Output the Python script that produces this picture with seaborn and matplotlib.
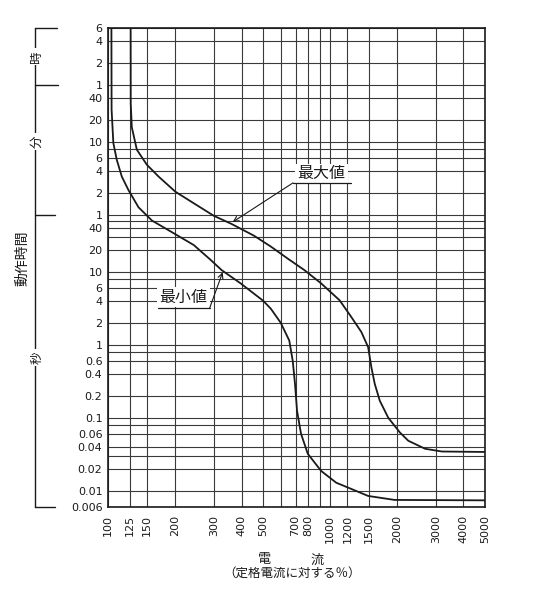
import matplotlib
matplotlib.use("Agg")
import matplotlib.pyplot as plt
import matplotlib.transforms as mtransforms
from matplotlib.ticker import FixedLocator, NullFormatter
import seaborn as sns

sns.set_style("white")
plt.rcParams['font.family'] = ['DejaVu Sans', 'Noto Sans CJK JP']

# ---- data (current in % of rating, time in seconds) ----
max_x = [126.5, 126.6, 128.0, 134.9, 149.7, 169, 201.2, 250, 300, 360, 455, 542,
         645, 767, 913, 1106, 1249, 1386, 1487, 1538, 1593, 1678, 1832, 2066, 2256,
         2685, 3194, 5000]
max_t = [21600, 2000, 950, 466, 290, 200, 124, 82, 58, 45, 31, 22,
         15.1, 10.5, 6.9, 4.05, 2.39, 1.49, 0.925, 0.49, 0.29, 0.171, 0.1, 0.063, 0.0484,
         0.0376, 0.0345, 0.034]

min_x = [103.6, 103.8, 105.7, 109.5, 115.4, 123.6, 137.2, 157.8, 193, 243.5, 289.9,
         325, 396, 500, 542, 600, 656, 680, 696, 711, 741, 795, 913, 1068, 1249,
         1487, 1955, 5000]
min_t = [21600, 1650, 576, 340, 200, 131, 76, 50, 35, 23.1, 14.5,
         10.5, 6.9, 4.0, 3.1, 2.0, 1.14, 0.6, 0.294, 0.125, 0.0604, 0.0321, 0.0187,
         0.0129, 0.0106, 0.0085, 0.0075, 0.0074]

x_ticks = [100, 125, 150, 200, 300, 400, 500, 700, 800, 1000, 1200, 1500, 2000, 3000, 4000, 5000]
x_tick_labels = [str(v) for v in x_ticks]
x_minor = [600, 900]

sec_ticks = [0.006, 0.01, 0.02, 0.04, 0.06, 0.1, 0.2, 0.4, 0.6, 1, 2, 4, 6, 10, 20, 40]
sec_labels = ['0.006', '0.01', '0.02', '0.04', '0.06', '0.1', '0.2', '0.4', '0.6',
              '1', '2', '4', '6', '10', '20', '40']
min_ticks = [1, 2, 4, 6, 10, 20, 40]          # minutes
hour_ticks = [1, 2, 4, 6]                     # hours
y_minor_sec = [0.03, 0.08, 0.8, 8, 30, 50, 480]

y_ticks = sec_ticks + [m * 60 for m in min_ticks] + [h * 3600 for h in hour_ticks]
y_tick_labels = sec_labels + [str(m) for m in min_ticks] + [str(h) for h in hour_ticks]

# ---- figure ----
W, H = 548, 600
fig = plt.figure(figsize=(W / 100, H / 100), dpi=100)
ax = fig.add_axes([108 / W, 1 - 507 / H, (485 - 108) / W, (507 - 28) / H])
ax.set_xscale('log')
ax.set_yscale('log')
ax.set_xlim(100, 5000)
ax.set_ylim(0.006, 21600)

ink = '#1a1a1a'
ax.xaxis.set_major_locator(FixedLocator(x_ticks))
ax.xaxis.set_minor_locator(FixedLocator(x_minor))
ax.xaxis.set_minor_formatter(NullFormatter())
ax.set_xticklabels(x_tick_labels, rotation=90, fontsize=8, color=ink)
ax.yaxis.set_major_locator(FixedLocator(y_ticks))
ax.yaxis.set_minor_locator(FixedLocator(y_minor_sec))
ax.yaxis.set_minor_formatter(NullFormatter())
ax.set_yticklabels(y_tick_labels, fontsize=8, color=ink)
ax.tick_params(axis='both', which='both', length=0)
ax.tick_params(axis='y', pad=4)
ax.tick_params(axis='x', pad=6)
ax.grid(True, which='both', color='#3a3a3a', lw=0.8)
for s in ax.spines.values():
    s.set_color(ink)
    s.set_linewidth(1.2)

sns.lineplot(x=max_x, y=max_t, ax=ax, color=ink, lw=1.3, estimator=None, sort=False, legend=False)
sns.lineplot(x=min_x, y=min_t, ax=ax, color=ink, lw=1.3, estimator=None, sort=False, legend=False)

# ---- annotations ----
wb = dict(boxstyle='square,pad=0.15', fc='white', ec='none')
ax.text(913, 219, '最大値', fontsize=11.5, ha='center', va='center', color=ink, bbox=wb, zorder=5)
ax.plot([682, 1249], [164, 164], color=ink, lw=0.9, zorder=5)
ax.annotate('', xy=(364.6, 47.7), xytext=(682, 164),
            arrowprops=dict(arrowstyle='->', lw=0.8, color=ink, mutation_scale=9,
                            shrinkA=0, shrinkB=0), zorder=5)

ax.text(218.7, 4.44, '最小値', fontsize=11.5, ha='center', va='center', color=ink, bbox=wb, zorder=5)
ax.plot([168.5, 286.8], [3.14, 3.14], color=ink, lw=0.9, zorder=5)
ax.annotate('', xy=(328.6, 9.8), xytext=(286.8, 3.14),
            arrowprops=dict(arrowstyle='->', lw=0.8, color=ink, mutation_scale=9,
                            shrinkA=0, shrinkB=0), zorder=5)

# ---- left bracket for time units ----
tr = mtransforms.blended_transform_factory(fig.transFigure, ax.transData)
bx = 35 / W
fig.add_artist(plt.Line2D([bx, bx], [0.006, 21600], transform=tr, color=ink, lw=1.0))
for yv, x2 in [(21600, 57), (3600, 58), (60, 55), (0.006, 55)]:
    fig.add_artist(plt.Line2D([bx, x2 / W], [yv, yv], transform=tr, color=ink, lw=1.0))
for yv, lab in [(8800, '時'), (600, '分'), (0.67, '秒')]:
    fig.text(37 / W, yv, lab, transform=tr, rotation=90, fontsize=9, ha='center', va='center',
             color=ink, bbox=dict(boxstyle='square,pad=0.2', fc='white', ec='none'))
fig.text(22 / W, 15.3, '動作時間', transform=tr, rotation=90, fontsize=10,
         ha='center', va='center', color=ink)

# ---- x label ----
fig.text(265 / W, 1 - 560 / H, '電', fontsize=9.5, ha='center', va='center', color=ink)
fig.text(317 / W, 1 - 560 / H, '流', fontsize=9.5, ha='center', va='center', color=ink)
fig.text(292 / W, 1 - 573 / H, '（定格電流に対する％）', fontsize=9, ha='center', va='center', color=ink)

fig.savefig('out.png', dpi=100)
